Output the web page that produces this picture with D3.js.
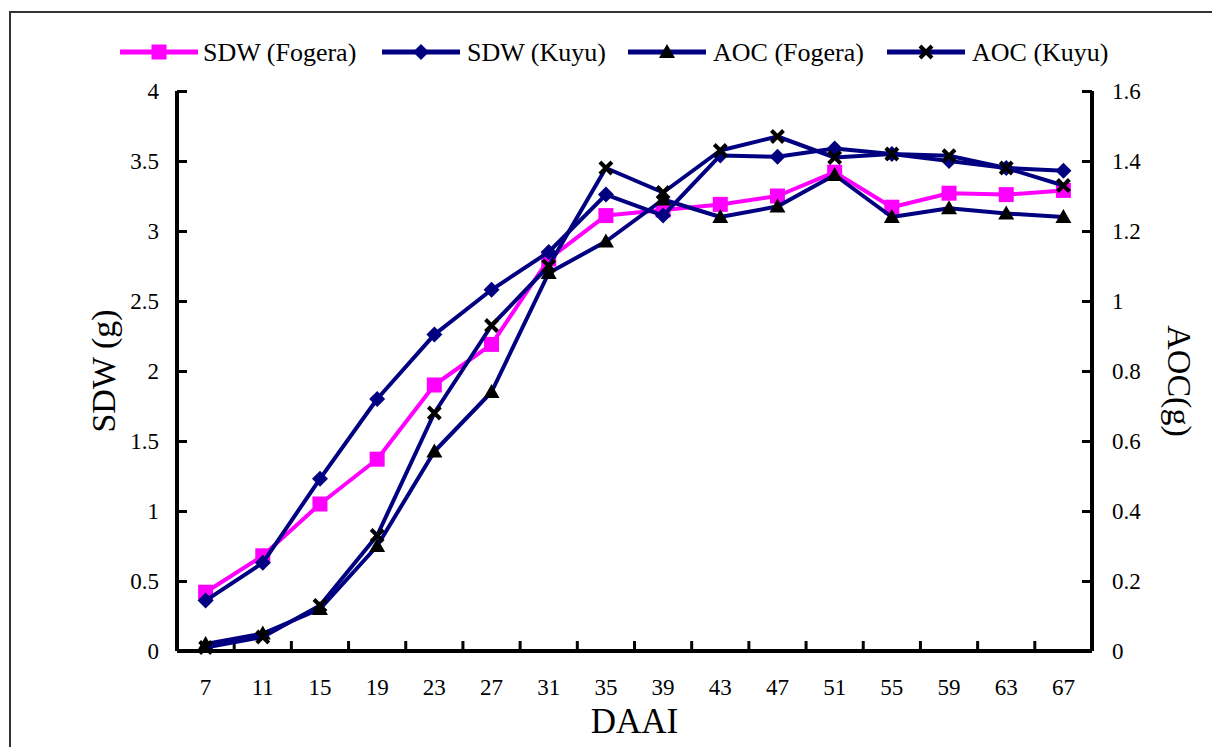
<!DOCTYPE html>
<html>
<head>
<meta charset="utf-8">
<script src="https://cdn.jsdelivr.net/npm/d3@7"></script>
<style>
  body { margin: 0; background: #fff; }
  svg text { font-family: "Liberation Serif", "Times New Roman", serif !important; }
</style>
</head>
<body>
<div id="chart"></div>
<script>
// DAAI categories
const days = [7, 11, 15, 19, 23, 27, 31, 35, 39, 43, 47, 51, 55, 59, 63, 67];

// left axis: shoot dry weight (g)
const sdwFogera = [0.42, 0.68, 1.05, 1.37, 1.90, 2.19, 2.80, 3.11, 3.15, 3.19, 3.25, 3.42, 3.17, 3.27, 3.26, 3.29];
const sdwKuyu   = [0.36, 0.63, 1.23, 1.80, 2.26, 2.58, 2.85, 3.26, 3.11, 3.54, 3.53, 3.59, 3.55, 3.50, 3.45, 3.43];

// right axis: AOC (g)
const aocFogera = [0.02, 0.05, 0.12, 0.30, 0.57, 0.74, 1.08, 1.17, 1.29, 1.24, 1.27, 1.36, 1.24, 1.265, 1.25, 1.24];
const aocKuyu   = [0.01, 0.04, 0.13, 0.33, 0.68, 0.93, 1.10, 1.38, 1.31, 1.43, 1.47, 1.41, 1.42, 1.415, 1.38, 1.33];

const leftTicks  = [0, 0.5, 1, 1.5, 2, 2.5, 3, 3.5, 4];
const rightTicks = [0, 0.2, 0.4, 0.6, 0.8, 1, 1.2, 1.4, 1.6];

const series = [
    { name: "SDW (Fogera)", values: sdwFogera, axis: "left",  color: "#ff00ff", marker: "square" },
    { name: "SDW (Kuyu)",   values: sdwKuyu,   axis: "left",  color: "#000080", marker: "diamond" },
    { name: "AOC (Fogera)", values: aocFogera, axis: "right", color: "#000080", marker: "triangle" },
    { name: "AOC (Kuyu)",   values: aocKuyu,   axis: "right", color: "#000080", marker: "cross" }
];

const width = 1212, height = 747;
const plot = { left: 177, right: 1092, top: 91, bottom: 651 };

const svg = d3.select("#chart").append("svg")
    .attr("width", width)
    .attr("height", height);

// outer chart border (runs off the right and bottom edges)
svg.append("path")
    .attr("d", `M10,${height + 5} L10,12 L${width + 5},12`)
    .attr("fill", "none")
    .attr("stroke", "#333")
    .attr("stroke-width", 2);

const x = d3.scaleBand().domain(days).range([plot.left, plot.right]);
const yL = d3.scaleLinear().domain([0, 4]).range([plot.bottom, plot.top]);
const yR = d3.scaleLinear().domain([0, 1.6]).range([plot.bottom, plot.top]);
const cx = d => x(d) + x.bandwidth() / 2;

// left axis
const leftAxis = svg.append("g")
    .attr("transform", `translate(${plot.left},0)`)
    .call(d3.axisLeft(yL).tickValues(leftTicks).tickFormat(d3.format("~g")).tickSize(-10).tickPadding(18));

// right axis
const rightAxis = svg.append("g")
    .attr("transform", `translate(${plot.right},0)`)
    .call(d3.axisRight(yR).tickValues(rightTicks).tickFormat(d3.format("~g")).tickSize(-10).tickPadding(20));

// bottom axis: labels at band centres, ticks at band edges
const bottomAxis = svg.append("g")
    .attr("transform", `translate(0,${plot.bottom})`)
    .call(d3.axisBottom(x).tickSize(0).tickPadding(28));

bottomAxis.selectAll(".bandTick")
    .data(days.slice(1))
    .enter().append("line")
    .attr("class", "bandTick")
    .attr("x1", d => x(d)).attr("x2", d => x(d))
    .attr("y1", -10).attr("y2", 2)
    .attr("stroke", "#000")
    .attr("stroke-width", 3);

[leftAxis, rightAxis, bottomAxis].forEach(g => {
    g.attr("font-family", null);
    g.select(".domain").attr("stroke", "#000").attr("stroke-width", 4);
    g.selectAll(".tick line").attr("stroke", "#000").attr("stroke-width", 3);
    g.selectAll("text")
        .attr("font-size", 23)
        .attr("fill", "#000");
});
leftAxis.select(".domain").attr("d", `M0,${plot.top}V${plot.bottom}`);
rightAxis.select(".domain").attr("d", `M0,${plot.top}V${plot.bottom}`);
bottomAxis.select(".domain").attr("d", `M${plot.left},0H${plot.right}`);

// axis titles
svg.append("text")
    .attr("transform", `translate(103,${(plot.top + plot.bottom) / 2}) rotate(-90)`)
    .attr("text-anchor", "middle")
    .attr("dy", "0.35em")
    .attr("font-size", 34)
    .text("SDW (g)");

svg.append("text")
    .attr("transform", `translate(1180,${(plot.top + plot.bottom) / 2 + 10}) rotate(90)`)
    .attr("text-anchor", "middle")
    .attr("dy", "0.35em")
    .attr("font-size", 34)
    .text("AOC(g)");

svg.append("text")
    .attr("x", (plot.left + plot.right) / 2)
    .attr("y", 733)
    .attr("text-anchor", "middle")
    .attr("font-size", 35)
    .text("DAAI");

// marker drawing
function drawMarker(g, type, color, px, py) {
    if (type === "square") {
        g.append("rect")
            .attr("x", px - 7.5).attr("y", py - 7.5)
            .attr("width", 15).attr("height", 15)
            .attr("fill", color);
    } else if (type === "diamond") {
        g.append("path")
            .attr("d", `M${px},${py - 8} L${px + 8},${py} L${px},${py + 8} L${px - 8},${py} Z`)
            .attr("fill", color);
    } else if (type === "triangle") {
        g.append("path")
            .attr("d", `M${px},${py - 8} L${px + 8},${py + 6} L${px - 8},${py + 6} Z`)
            .attr("fill", "#000");
    } else if (type === "cross") {
        g.append("path")
            .attr("d", `M${px - 6},${py - 6} L${px + 6},${py + 6} M${px + 6},${py - 6} L${px - 6},${py + 6}`)
            .attr("stroke", "#000")
            .attr("stroke-width", 4);
    }
}

// series lines and markers
series.forEach(s => {
    const y = s.axis === "left" ? yL : yR;
    const line = d3.line()
        .x((d, i) => cx(days[i]))
        .y(d => y(d));
    const g = svg.append("g");
    g.append("path")
        .datum(s.values)
        .attr("d", line)
        .attr("fill", "none")
        .attr("stroke", s.color)
        .attr("stroke-width", 4)
        .attr("stroke-linejoin", "round");
    s.values.forEach((v, i) => drawMarker(g, s.marker, s.color, cx(days[i]), y(v)));
});

// legend
const legendItems = [
    { x: 120, textX: 203 },
    { x: 382, textX: 467 },
    { x: 628, textX: 713 },
    { x: 887, textX: 972 }
];
const legend = svg.append("g");
series.forEach((s, i) => {
    const item = legendItems[i];
    const ly = 52;
    legend.append("line")
        .attr("x1", item.x).attr("x2", item.x + 78)
        .attr("y1", ly).attr("y2", ly)
        .attr("stroke", s.color)
        .attr("stroke-width", 5);
    drawMarker(legend, s.marker, s.color, item.x + 39, ly);
    legend.append("text")
        .attr("x", item.textX)
        .attr("y", ly)
        .attr("dy", "0.35em")
        .attr("font-size", 26)
        .text(s.name);
});
</script>
</body>
</html>
